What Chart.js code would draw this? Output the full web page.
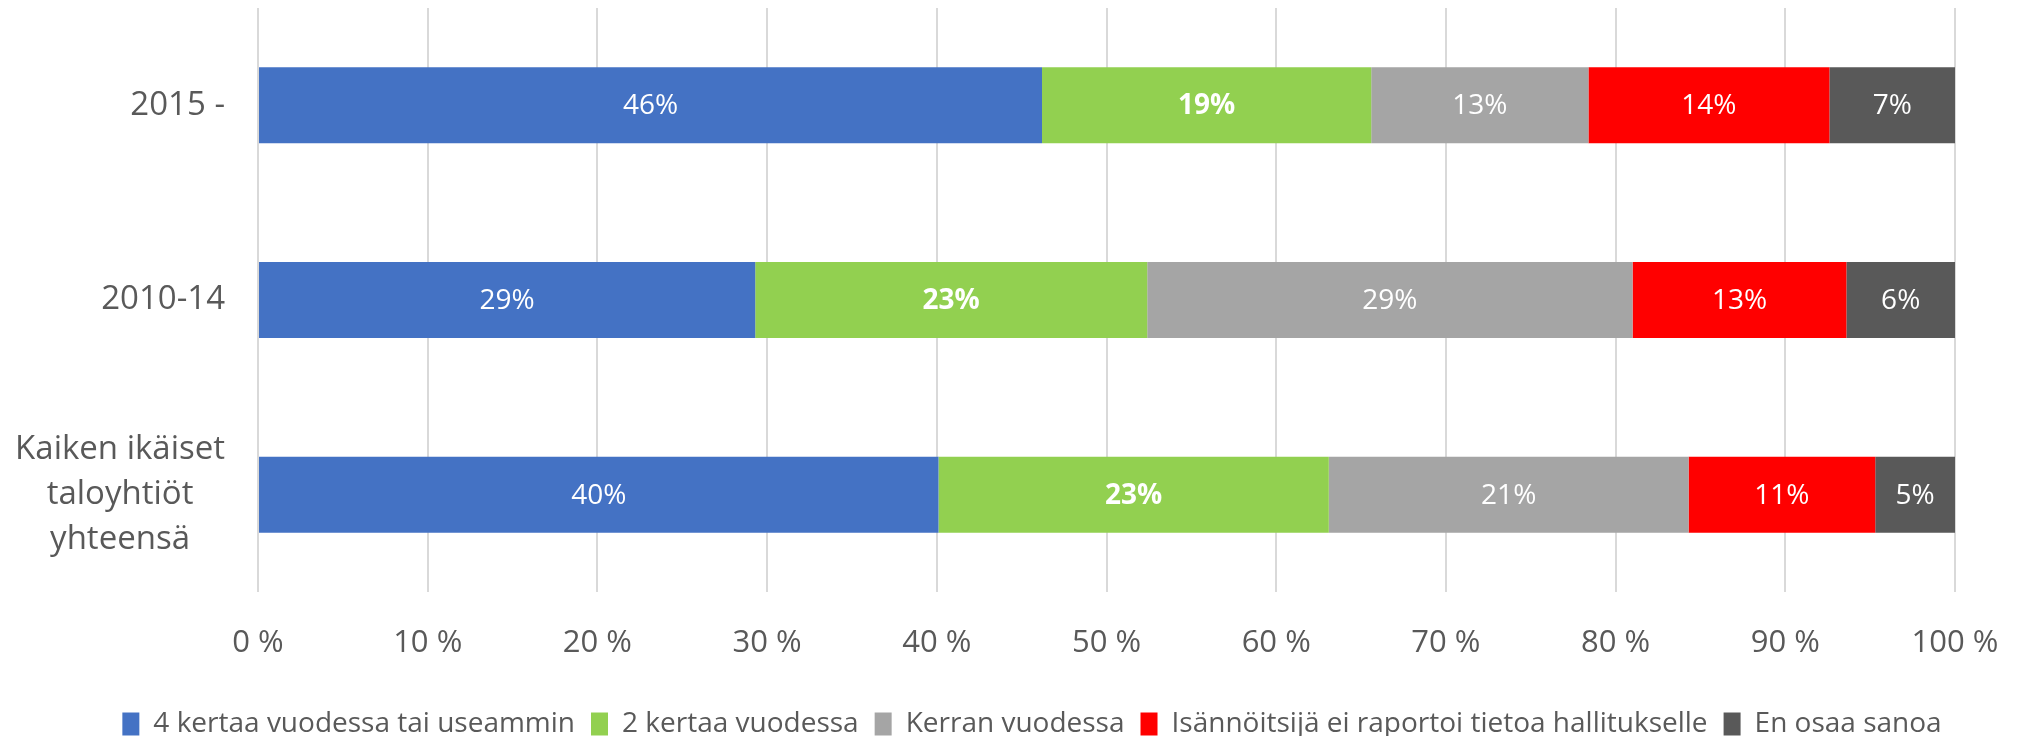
<!DOCTYPE html>
<html><head><meta charset="utf-8">
<script src="https://cdn.jsdelivr.net/npm/chart.js@4.4.1/dist/chart.umd.min.js"></script>
<style>html,body{margin:0;padding:0;background:#fff;overflow:hidden}</style>
</head><body>
<canvas id="c" width="2018" height="736"></canvas>
<script>
const categories = ['2015 -', '2010-14', ['Kaiken ikäiset', 'taloyhtiöt', 'yhteensä']];
const seriesNames = ['4 kertaa vuodessa tai useammin', '2 kertaa vuodessa', 'Kerran vuodessa', 'Isännöitsijä ei raportoi tietoa hallitukselle', 'En osaa sanoa'];
const s4kertaa = [46.2, 29.3, 40.1];
const s2kertaa = [19.4, 23.1, 23.0];
const sKerran = [12.8, 28.6, 21.2];
const sEiRaportoi = [14.2, 12.6, 11.0];
const sEnOsaa = [7.4, 6.4, 4.7];
const xTicks = [0, 10, 20, 30, 40, 50, 60, 70, 80, 90, 100];

const colors = ['#4472C4', '#92D050', '#A5A5A5', '#FF0000', '#595959'];
const boldLabels = [false, true, false, false, false];
const FONT = "'Open Sans', sans-serif";
const TEXT = '#595959';

const yLabelPlugin = {
  id: 'yLabels',
  afterDraw(chart) {
    const ctx = chart.ctx, ys = chart.scales.y;
    ctx.save();
    ctx.font = '33px ' + FONT;
    ctx.fillStyle = TEXT;
    ctx.textBaseline = 'middle';
    ctx.textAlign = 'center';
    const right = chart.chartArea.left - 33;
    categories.forEach((lab, i) => {
      const lines = Array.isArray(lab) ? lab : [lab];
      const w = Math.max(...lines.map(l => ctx.measureText(l).width));
      const cx = right - w / 2;
      const cy = ys.getPixelForValue(i);
      const lh = 45;
      lines.forEach((l, j) => ctx.fillText(l, cx, cy + (j - (lines.length - 1) / 2) * lh));
    });
    ctx.restore();
  }
};

const dataLabelPlugin = {
  id: 'dataLabels',
  afterDatasetsDraw(chart) {
    const ctx = chart.ctx;
    ctx.save();
    ctx.fillStyle = '#FFFFFF';
    ctx.textAlign = 'center';
    ctx.textBaseline = 'middle';
    chart.data.datasets.forEach((ds, di) => {
      const meta = chart.getDatasetMeta(di);
      ctx.font = (boldLabels[di] ? 'bold ' : '') + '28px ' + FONT;
      meta.data.forEach((el, i) => {
        const p = el.getProps(['x', 'y', 'base'], true);
        ctx.fillText(Math.round(ds.data[i]) + '%', (p.x + p.base) / 2, p.y + 1);
      });
    });
    ctx.restore();
  }
};

const seriesData = [s4kertaa, s2kertaa, sKerran, sEiRaportoi, sEnOsaa];

new Chart(document.getElementById('c'), {
  type: 'bar',
  data: {
    labels: categories,
    datasets: seriesData.map((d, i) => ({
      label: seriesNames[i],
      data: d,
      backgroundColor: colors[i],
      borderWidth: 0,
      barPercentage: 0.39,
      categoryPercentage: 1
    }))
  },
  options: {
    indexAxis: 'y',
    responsive: false,
    animation: false,
    devicePixelRatio: 1,
    layout: { padding: { left: 46, right: 0, top: 8, bottom: -12 } },
    plugins: {
      tooltip: { enabled: false },
      legend: {
        position: 'bottom',
        labels: {
          boxWidth: 17,
          boxHeight: 23,
          padding: 16,
          color: TEXT,
          font: { family: FONT, size: 28 }
        }
      }
    },
    scales: {
      x: {
        stacked: true,
        min: 0,
        max: 100,
        afterBuildTicks: s => { s.ticks = xTicks.map(v => ({ value: v })); },
        afterFit: s => { s.height = 102; s.paddingRight = 63; },
        grid: { color: '#D9D9D9', lineWidth: 2, drawTicks: false },
        border: { display: false },
        ticks: {
          padding: 33,
          color: TEXT,
          font: { family: FONT, size: 31 },
          callback: v => v + ' %'
        }
      },
      y: {
        stacked: true,
        afterFit: s => { s.width = 212; },
        grid: { display: false },
        border: { display: false },
        ticks: { display: false }
      }
    }
  },
  plugins: [yLabelPlugin, dataLabelPlugin]
});
</script>
</body></html>
